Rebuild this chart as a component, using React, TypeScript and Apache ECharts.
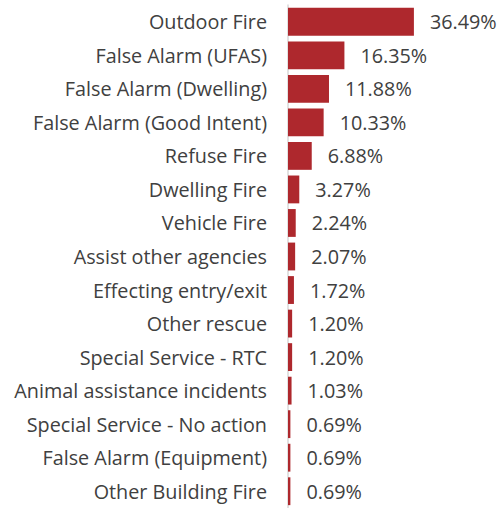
import React, { useEffect, useRef } from "react";
import * as echarts from "echarts";

const categories = [
  "Outdoor Fire",
  "False Alarm (UFAS)",
  "False Alarm (Dwelling)",
  "False Alarm (Good Intent)",
  "Refuse Fire",
  "Dwelling Fire",
  "Vehicle Fire",
  "Assist other agencies",
  "Effecting entry/exit",
  "Other rescue",
  "Special Service - RTC",
  "Animal assistance incidents",
  "Special Service - No action",
  "False Alarm (Equipment)",
  "Other Building Fire",
];
const values = [36.49, 16.35, 11.88, 10.33, 6.88, 3.27, 2.24, 2.07, 1.72, 1.2, 1.2, 1.03, 0.69, 0.69, 0.69];

export default function App() {
  const ref = useRef<HTMLDivElement>(null);
  useEffect(() => {
    const chart = echarts.init(ref.current!, undefined, { renderer: "svg" });
    const font = "'Open Sans', sans-serif";
    chart.setOption({
      animation: false,
      grid: { left: 288, top: 5, width: 216, height: 506, containLabel: false },
      xAxis: {
        type: "value",
        min: 0,
        max: 62.6,
        show: false,
      },
      yAxis: {
        type: "category",
        data: categories,
        inverse: true,
        axisLine: { show: true, lineStyle: { color: "#D9D9D9", width: 1.5 } },
        axisTick: { show: false },
        axisLabel: { color: "#404040", fontSize: 19.8, fontFamily: font, margin: 21 },
      },
      series: [
        {
          type: "bar",
          data: values,
          barCategoryGap: "17%",
          itemStyle: { color: "#AE282D" },
          label: {
            show: true,
            position: "right",
            distance: 16,
            color: "#404040",
            fontSize: 19.8,
            fontFamily: font,
            formatter: (p: any) => p.value.toFixed(2) + "%",
          },
        },
      ],
    });
    return () => chart.dispose();
  }, []);
  return <div ref={ref} style={{ width: 504, height: 508, position: "absolute", left: 0, top: 0 }} />;
}
